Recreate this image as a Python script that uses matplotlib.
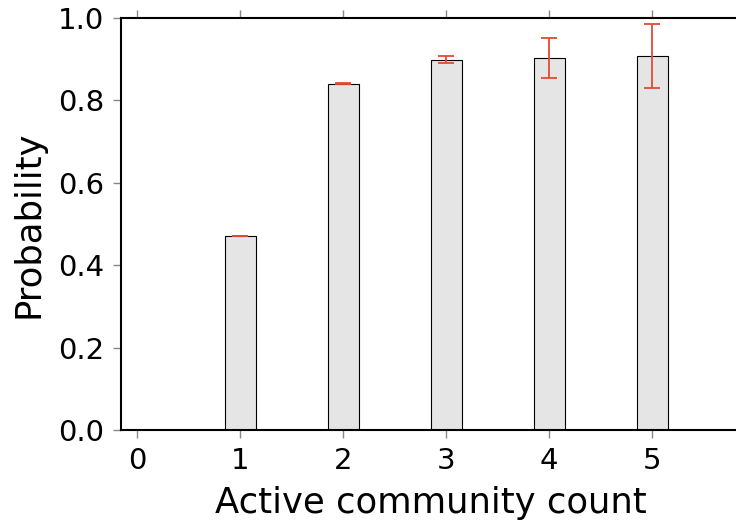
import matplotlib
matplotlib.use("Agg")
import matplotlib.pyplot as plt
import numpy as np

# values
counts = [1, 2, 3, 4, 5]
probability = [0.471, 0.841, 0.899, 0.903, 0.908]
prob_err = [0.001, 0.001, 0.008, 0.048, 0.078]
x_ticks = [0, 1, 2, 3, 4, 5]
y_ticks = [0.0, 0.2, 0.4, 0.6, 0.8, 1.0]

fig = plt.figure(figsize=(7.36, 5.27), dpi=100)
# axes runs past the right edge of the figure, as in the reference
ax = fig.add_axes([121 / 736, 97 / 527, 619 / 736, 412 / 527])

ax.bar(counts, probability, width=0.3, color="#e5e5e5", edgecolor="black",
       linewidth=0.8, zorder=2)
ax.errorbar(counts, probability, yerr=prob_err, fmt="none", ecolor="#e24a33",
            elinewidth=1.3, capsize=6, capthick=1.3, zorder=3)

ax.set_xlim(-0.155, 5.85)
ax.set_ylim(0, 1.0)
ax.set_xticks(x_ticks)
ax.set_yticks(y_ticks)
ax.set_yticklabels([f"{v:.1f}" for v in y_ticks])

for side in ["left", "bottom", "top", "right"]:
    ax.spines[side].set_linewidth(1.5)
    ax.spines[side].set_color("black")

ax.tick_params(direction="out", length=6, width=1, color="#888888",
               labelsize=21, top=True, right=True, pad=6)

ax.set_xlabel("Active community count", fontsize=25.5, labelpad=8)
ax.set_ylabel("Probability", fontsize=25.5, labelpad=9)

fig.savefig("out.png", dpi=100)
